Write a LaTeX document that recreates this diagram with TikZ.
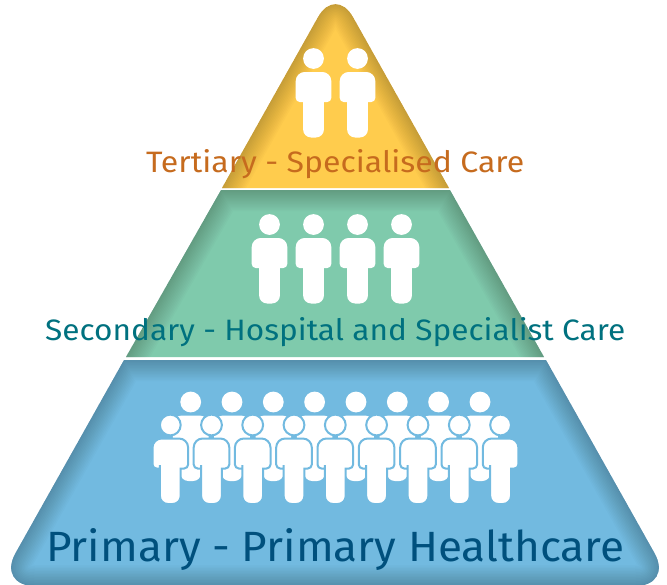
\documentclass[tikz,border=0pt]{standalone}
\usepackage{fontspec}
\setmainfont{Fira Sans}
\definecolor{tieryellow}{HTML}{FFCC4D}
\definecolor{tiergreen}{HTML}{7FCAAC}
\definecolor{tierblue}{HTML}{72BAE0}
\definecolor{textorange}{HTML}{C66B1E}
\definecolor{textteal}{HTML}{00717F}
\definecolor{textnavy}{HTML}{00507D}
\tikzset{
  x=1pt,y=-1pt,
  tierAshape/.style={insert path={(222,188) [rounded corners=35.6] -- (335.5,-14) [sharp corners] -- (449,188)}},
  tierBshape/.style={insert path={(126,357) -- (221,190) -- (450,190) -- (544,357)}},
  tierCshape/.style={insert path={(124,360) [rounded corners=37.6] -- (-3,586) -- (673,586) [sharp corners] -- (546,360) -- cycle}},
  person/.pic={
    \path[pic actions] (0,0) circle[radius=10.4];
    \path[pic actions]
      (-10.4,40) [rounded corners=8] -- (-10.4,79) -- (10.4,79) [sharp corners] -- (10.4,43.5)
      [rounded corners=4] -- (17.8,43.5) [rounded corners=9] -- (17.8,13.5) -- (-17.8,13.5) [rounded corners=4] -- (-17.8,43.5) [sharp corners] -- (-10.4,43.5) -- cycle;
  },
  whiteperson/.style={fill=white},
  ringperson/.style={fill=white,draw=tierblue,line width=2},
  label/.style={inner sep=0,anchor=base west},
}
\newcommand{\fitlabel}[3]{\resizebox{#1pt}{#2pt}{#3}}
\newcommand{\innershadow}[2]{%
  \begin{scope}
    \clip[#1] -- cycle;
    \foreach \w in {3,6,...,42} {
      \draw[#1,line width=\w,#2,opacity=0.014];
    }
  \end{scope}}
\begin{document}
\begin{tikzpicture}
\useasboundingbox (0,0) rectangle (667,584);
\clip (0,0) rectangle (667,584);
\fill[white] (0,0) rectangle (667,584);
% Tiers
\fill[tieryellow,tierAshape] -- cycle;
\innershadow{tierAshape}{black}
\fill[tiergreen,tierBshape] -- cycle;
\innershadow{tierBshape}{black}
\fill[tierblue,tierCshape];
\begin{scope}
  \clip[tierCshape];
  \foreach \w in {3,6,...,42} {\draw[tierCshape,line width=\w,black,opacity=0.014];}
\end{scope}
% People: top
\foreach \px in {313.5,357.5} {\pic[whiteperson] at (\px,58.5) {person};}
% People: middle
\foreach \px in {269.5,313.5,357.5,401.5} {\pic[whiteperson] at (\px,224.5) {person};}
% People: bottom
\foreach \px in {190.7,232,273.3,314.6,356,397.3,438.6,480} {\pic[whiteperson] at (\px,402) {person};}
\foreach \px in {170.3,211.5,252.7,294,335.3,376.6,418,459.3,500.6} {\pic[ringperson] at (\px,425) {person};}
% Labels
\node[label,text=textorange] (tertiary) at (146,172) {\fitlabel{378}{23}{Tertiary - Specialised Care}};
\node[label,text=textteal] (secondary) at (45,340) {\fitlabel{580}{23}{Secondary - Hospital and Specialist Care}};
\node[label,text=textnavy] (primary) at (46,561) {\fitlabel{578}{33}{Primary - Primary Healthcare}};
\end{tikzpicture}
\end{document}
